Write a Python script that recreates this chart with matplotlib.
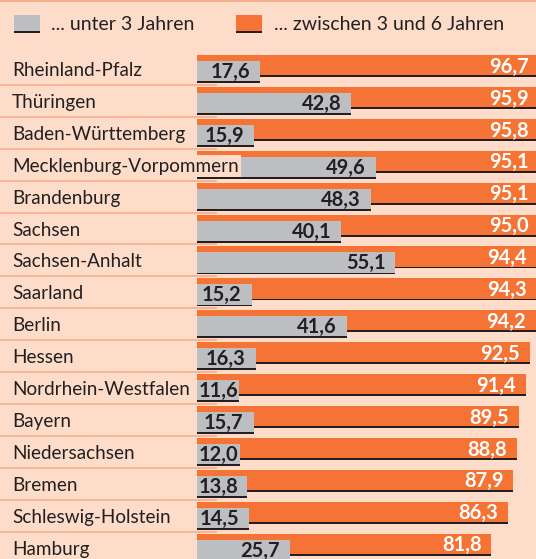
import matplotlib
matplotlib.use("Agg")
import matplotlib.pyplot as plt
import numpy as np

categories = ["Rheinland-Pfalz", "Thüringen", "Baden-Württemberg", "Mecklenburg-Vorpommern",
              "Brandenburg", "Sachsen", "Sachsen-Anhalt", "Saarland", "Berlin", "Hessen",
              "Nordrhein-Westfalen", "Bayern", "Niedersachsen", "Bremen", "Schleswig-Holstein",
              "Hamburg"]
under3 = [17.6, 42.8, 15.9, 49.6, 48.3, 40.1, 55.1, 15.2, 41.6, 16.3, 11.6, 15.7, 12.0, 13.8, 14.5, 25.7]
age3to6 = [96.7, 95.9, 95.8, 95.1, 95.1, 95.0, 94.4, 94.3, 94.2, 92.5, 91.4, 89.5, 88.8, 87.9, 86.3, 81.8]
legend_labels = ["... unter 3 Jahren", "... zwischen 3 und 6 Jahren"]

BG = "#FDDDCA"
ORANGE = "#F47335"
GREY = "#BDBEC1"
DARK = "#231F20"
SEP = "#F6A983"
FONT = ["Lato", "DejaVu Sans"]

W, H = 536, 559
X0 = 197.0     # pixel of value 0
SCALE = 3.6    # pixels per unit
ROW0 = 55.0
STEP = 31.9
BAR_H = 22.0
OFFSET = 6.0
LINE_H = 1.8

def px(xp):
    return (xp - X0) / SCALE

fig = plt.figure(figsize=(W / 100, H / 100), dpi=100)
fig.patch.set_facecolor(BG)
ax = fig.add_axes([0, 0, 1, 1])
ax.set_facecolor(BG)
ax.set_xlim(px(0), px(W))
ax.set_ylim(H, 0)
ax.axis("off")

n = len(categories)
tops = ROW0 + STEP * np.arange(n)

# top border line
ax.hlines(0.8, px(0), px(W), color=SEP, lw=1.2)

# separators
for t in tops[1:]:
    ax.hlines(t - 2.0, px(0), px(217), color=SEP, lw=1.1, zorder=1)

# orange bars
ax.barh(tops + BAR_H / 2, age3to6, height=BAR_H, left=0, color=ORANGE, zorder=2)
ax.barh(tops + BAR_H - LINE_H / 2, age3to6, height=LINE_H, left=0, color=DARK, zorder=2.1)
# grey bars
gt = tops + OFFSET
ax.barh(gt + BAR_H / 2, under3, height=BAR_H, left=0, color=GREY, zorder=3)
ax.barh(gt + BAR_H - LINE_H / 2, under3, height=LINE_H, left=0, color=DARK, zorder=3.1)

renderer = fig.canvas.get_renderer()
xmax_u = px(529)
grey_texts = []
for i in range(n):
    t = tops[i]
    ax.text(px(12), t + 21, categories[i], fontsize=13.6, family=FONT, color=DARK,
            va="baseline", ha="left", zorder=5,
            bbox=dict(facecolor=BG, edgecolor="none", boxstyle="square,pad=0.12"))
    ox = min(age3to6[i] - 10 / SCALE, xmax_u)
    ax.text(ox, t + 17.7, f"{age3to6[i]:.1f}".replace(".", ","), fontsize=14.5,
            family=FONT, weight="bold", color="white", ha="right", va="baseline", zorder=6)
    gx = under3[i] - 10 / SCALE
    gtxt = ax.text(gx, t + 23, f"{under3[i]:.1f}".replace(".", ","), fontsize=14.5,
                   family=FONT, weight="bold", color=DARK, ha="right", va="baseline", zorder=6)
    grey_texts.append(gtxt)

# keep small grey labels inside the bar start
for gtxt in grey_texts:
    bb = gtxt.get_window_extent(renderer)
    if bb.x0 < X0 + 2:
        gtxt.set_ha("left")
        gtxt.set_x(px(X0 + 2))

# legend
for (x1, x2, col, tx, lab) in [(14, 40, GREY, 51, legend_labels[0]),
                                (236, 262, ORANGE, 274, legend_labels[1])]:
    ax.barh(24, px(x2) - px(x1), height=18, left=px(x1), color=col, zorder=2)
    ax.barh(32, px(x2) - px(x1), height=1.8, left=px(x1), color=DARK, zorder=2.1)
    ax.text(px(tx), 30, lab, fontsize=14, family=FONT, color=DARK, va="baseline", ha="left")

fig.savefig("out.png", dpi=100, facecolor=BG)
